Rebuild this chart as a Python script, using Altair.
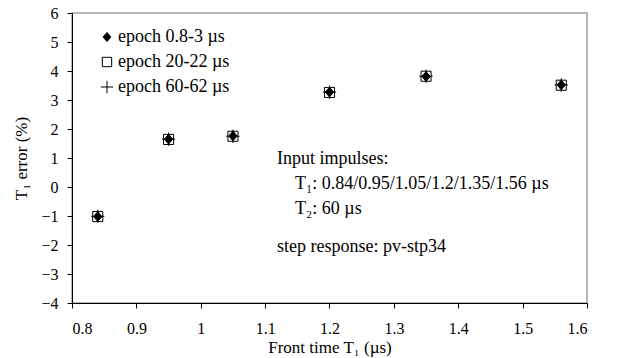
import altair as alt
import pandas as pd

front_time = [0.84, 0.95, 1.05, 1.2, 1.35, 1.56]
err_ep1 = [-1.02, 1.65, 1.76, 3.27, 3.81, 3.52]
err_ep2 = [-1.02, 1.64, 1.75, 3.26, 3.82, 3.51]
err_ep3 = [-1.01, 1.65, 1.75, 3.27, 3.82, 3.52]
series_names = ["epoch 0.8-3  µs", "epoch 20-22  µs", "epoch 60-62  µs"]

rows = []
for name, vals in zip(series_names, [err_ep1, err_ep2, err_ep3]):
    for x, y in zip(front_time, vals):
        rows.append({"series": name, "T1": x, "err": y})
df = pd.DataFrame(rows)

FONT = "Liberation Serif"

shape_paths = [
    "M0,-0.7L0.6,0L0,0.7L-0.6,0Z",
    "M-0.72,-0.72L0.72,-0.72L0.72,0.72L-0.72,0.72Z",
    "M-0.95,0L0.95,0M0,-0.95L0,0.95",
]

leg = alt.Legend(title=None, orient="none", legendX=26, legendY=15, padding=0,
                 labelFont=FONT, labelFontSize=18, labelColor="black",
                 symbolSize=169, symbolStrokeWidth=1, rowPadding=7,
                 labelOffset=2)

points = alt.Chart(df).mark_point(size=196, strokeWidth=1, opacity=1).encode(
    x=alt.X("T1:Q", scale=alt.Scale(domain=[0.8, 1.6], nice=False),
            axis=alt.Axis(title="Front time T₁ (µs)", values=[0.8, 0.9, 1.0, 1.1, 1.2, 1.3, 1.4, 1.5, 1.6],
                          format=".1~f", grid=False)),
    y=alt.Y("err:Q", scale=alt.Scale(domain=[-4, 6], nice=False),
            axis=alt.Axis(title="T₁ error (%)", values=list(range(-4, 7)), format="d", grid=False)),
    shape=alt.Shape("series:N", scale=alt.Scale(domain=series_names, range=shape_paths), legend=leg),
    fill=alt.Fill("series:N", scale=alt.Scale(domain=series_names, range=["black", "transparent", "transparent"]), legend=leg),
    stroke=alt.Stroke("series:N", scale=alt.Scale(domain=series_names, range=["black", "black", "black"]), legend=leg),
)

ann_lines = ["Input impulses:", "T₁: 0.84/0.95/1.05/1.2/1.35/1.56 µs", "T₂: 60 µs", "step response: pv-stp34"]
ann_x = [205, 223, 223, 205]
ann_y = [151, 176, 201, 239]

ann_layers = []
for t, ax, ay in zip(ann_lines, ann_x, ann_y):
    ann_layers.append(
        alt.Chart(pd.DataFrame({"t": [t]})).mark_text(
            font=FONT, fontSize=18, color="black", align="left", baseline="alphabetic"
        ).encode(text="t:N", x=alt.value(ax), y=alt.value(ay))
    )

chart = alt.layer(points, *ann_layers).properties(
    width=515, height=290,
    autosize=alt.AutoSizeParams(type="none"),
    padding={"left": 72, "top": 13, "right": 33, "bottom": 55},
).configure_view(stroke="#a0a0a0", strokeWidth=1.5).configure_axis(
    domainColor="black", tickColor="black", tickSize=5, domainWidth=1,
    labelFont=FONT, labelFontSize=16, labelColor="black",
    titleFont=FONT, titleFontSize=17, titleColor="black", titleFontWeight="normal",
).configure_axisX(labelPadding=12, titlePadding=3).configure_axisY(labelPadding=9, titlePadding=10)

chart.save("out.html", embed_options={"renderer": "svg", "actions": False})
